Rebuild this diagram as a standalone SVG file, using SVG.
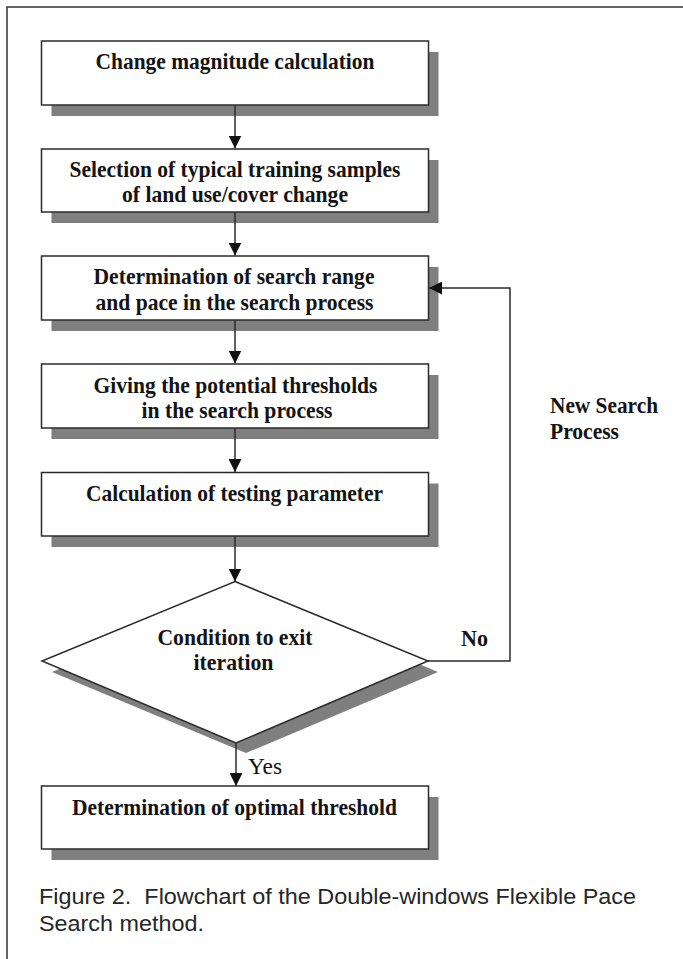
<svg xmlns="http://www.w3.org/2000/svg" width="683" height="959" viewBox="0 0 683 959">
<style>
.bg{fill:#ffffff}
.frame{fill:none;stroke:#333333;stroke-width:1.5}
.shadow{fill:#7f7f7f;stroke:none}
.box{fill:#ffffff;stroke:#2b2b2b;stroke-width:1.5}
.t{font-family:"Liberation Serif","Times New Roman",serif;font-weight:bold;font-size:23px;fill:#141414;text-anchor:middle}
.tl{font-family:"Liberation Serif","Times New Roman",serif;font-weight:bold;font-size:23px;fill:#141414}
.yes{font-family:"Liberation Serif","Times New Roman",serif;font-size:23px;fill:#141414}
.cap{font-family:"Liberation Sans",Arial,sans-serif;font-size:21.5px;fill:#262626;white-space:pre}
.line{fill:none;stroke:#2b2b2b;stroke-width:1.5}
</style>
<defs>
<marker id="ah" markerWidth="13" markerHeight="13" refX="13" refY="6.5" orient="auto" markerUnits="userSpaceOnUse">
<path d="M0,0 L13,6.5 L0,13 Z" fill="#111111"/>
</marker>
</defs>
<rect class="bg" x="0" y="0" width="683" height="959"/>
<path class="frame" d="M7,959 L7,7 L683,7"/>

<g id="n1">
<rect class="shadow" x="51.5" y="52" width="387" height="64"/>
<rect class="box" x="41.5" y="41" width="387" height="64"/>
<text class="t" x="235" y="69" textLength="279" lengthAdjust="spacingAndGlyphs">Change magnitude calculation</text>
</g>

<g id="n2">
<rect class="shadow" x="51.5" y="160" width="387" height="63"/>
<rect class="box" x="41.5" y="149" width="387" height="63"/>
<text class="t" x="235" y="176.5" textLength="331" lengthAdjust="spacingAndGlyphs">Selection of typical training samples</text>
<text class="t" x="235" y="201.5" textLength="226" lengthAdjust="spacingAndGlyphs">of land use/cover change</text>
</g>

<g id="n3">
<rect class="shadow" x="51.5" y="267" width="387" height="64"/>
<rect class="box" x="41.5" y="256" width="387" height="64"/>
<text class="t" x="234" y="284" textLength="281" lengthAdjust="spacingAndGlyphs">Determination of search range</text>
<text class="t" x="234.5" y="309.5" textLength="278" lengthAdjust="spacingAndGlyphs">and pace in the search process</text>
</g>

<g id="n4">
<rect class="shadow" x="51.5" y="375" width="387" height="64"/>
<rect class="box" x="41.5" y="364" width="387" height="64"/>
<text class="t" x="235.5" y="392.5" textLength="284" lengthAdjust="spacingAndGlyphs">Giving the potential thresholds</text>
<text class="t" x="237" y="417.5" textLength="191" lengthAdjust="spacingAndGlyphs">in the search process</text>
</g>

<g id="n5">
<rect class="shadow" x="51.5" y="483.5" width="387" height="63.5"/>
<rect class="box" x="41.5" y="472.5" width="387" height="63.5"/>
<text class="t" x="234.5" y="501" textLength="297" lengthAdjust="spacingAndGlyphs">Calculation of testing parameter</text>
</g>

<g id="n6">
<polygon class="shadow" points="245,591.5 438,672 246,753 52,672"/>
<polygon class="box" points="235,581.5 428,661 236,743 42,661"/>
<text class="t" x="235" y="645" textLength="155" lengthAdjust="spacingAndGlyphs">Condition to exit</text>
<text class="t" x="233.5" y="669.5" textLength="80" lengthAdjust="spacingAndGlyphs">iteration</text>
</g>

<g id="n7">
<rect class="shadow" x="51.5" y="797" width="387" height="63"/>
<rect class="box" x="41.5" y="786" width="387" height="63"/>
<text class="t" x="234.5" y="814.5" textLength="325" lengthAdjust="spacingAndGlyphs">Determination of optimal threshold</text>
</g>

<g id="connectors">
<line class="line" x1="235" y1="105" x2="235" y2="148.5" marker-end="url(#ah)"/>
<line class="line" x1="235" y1="212" x2="235" y2="255.5" marker-end="url(#ah)"/>
<line class="line" x1="235" y1="320" x2="235" y2="363.5" marker-end="url(#ah)"/>
<line class="line" x1="235" y1="428" x2="235" y2="472" marker-end="url(#ah)"/>
<line class="line" x1="235" y1="536" x2="235" y2="581.5" marker-end="url(#ah)"/>
<line class="line" x1="236" y1="743" x2="236" y2="786" marker-end="url(#ah)"/>
<polyline class="line" points="428,661 510,661 510,288 429,288" marker-end="url(#ah)"/>
</g>

<g id="labels">
<text class="tl" x="461" y="646" textLength="27" lengthAdjust="spacingAndGlyphs">No</text>
<text class="yes" x="248" y="774" textLength="34" lengthAdjust="spacingAndGlyphs">Yes</text>
<text class="tl" x="550" y="412.5" textLength="108" lengthAdjust="spacingAndGlyphs">New Search</text>
<text class="tl" x="550" y="438.5" textLength="69" lengthAdjust="spacingAndGlyphs">Process</text>
</g>

<g id="caption">
<text class="cap" x="39" y="904" textLength="597" lengthAdjust="spacingAndGlyphs" xml:space="preserve">Figure 2.  Flowchart of the Double-windows Flexible Pace</text>
<text class="cap" x="39" y="931" textLength="165" lengthAdjust="spacingAndGlyphs">Search method.</text>
</g>
</svg>
